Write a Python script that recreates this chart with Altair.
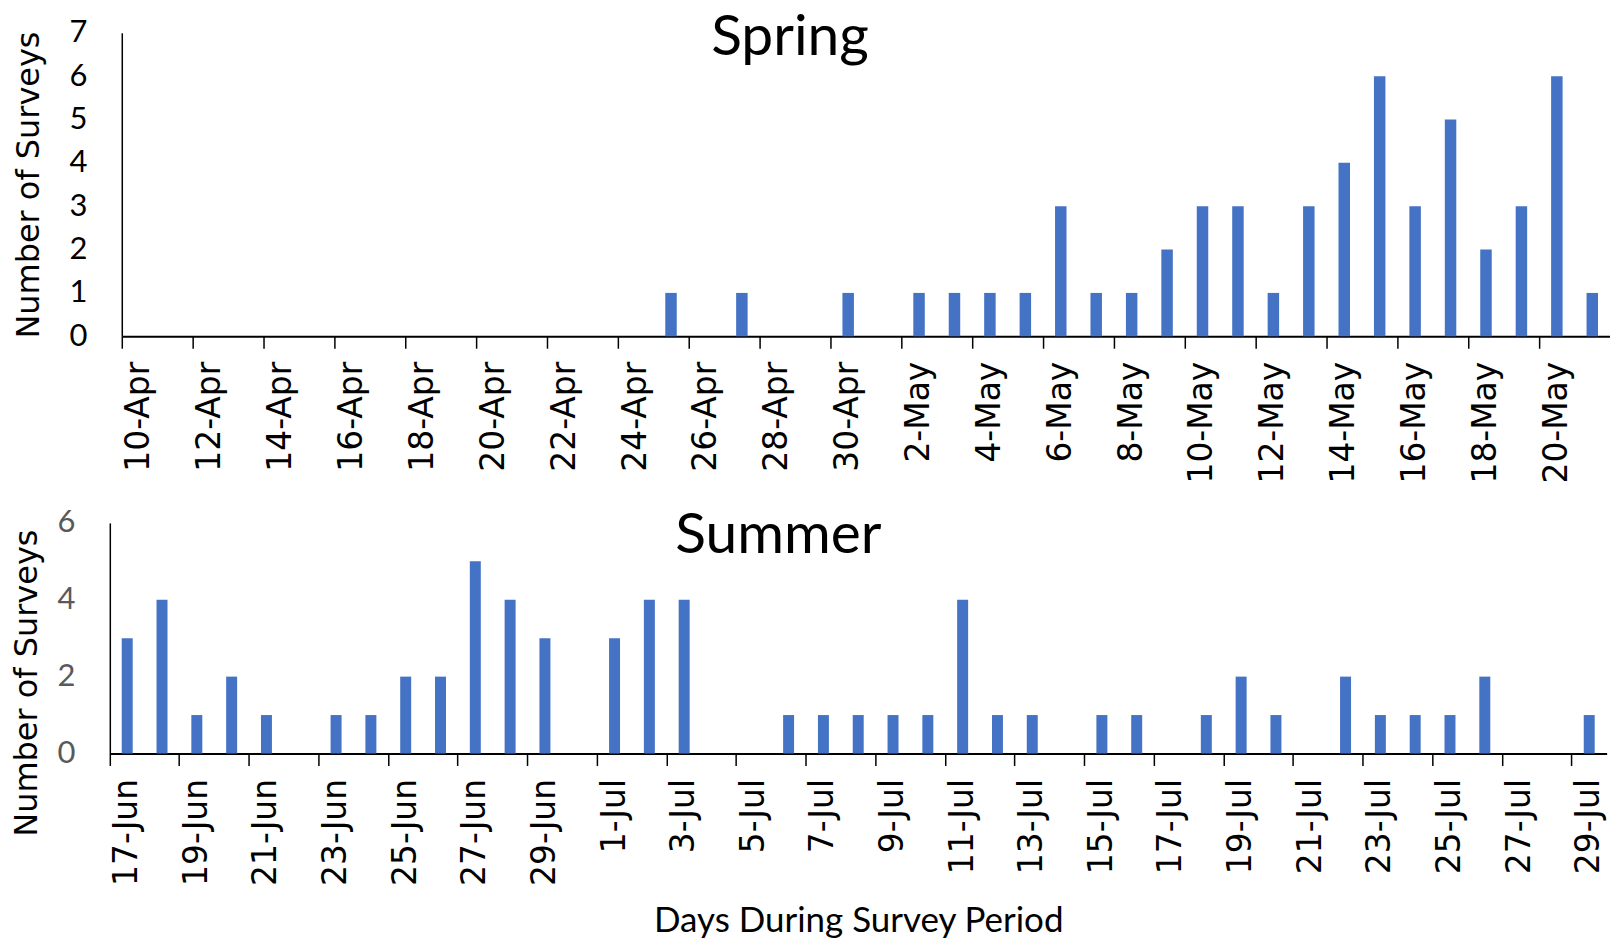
import altair as alt
import pandas as pd

spring_days = [
    "10-Apr", "11-Apr", "12-Apr", "13-Apr", "14-Apr", "15-Apr", "16-Apr", "17-Apr",
    "18-Apr", "19-Apr", "20-Apr", "21-Apr", "22-Apr", "23-Apr", "24-Apr", "25-Apr",
    "26-Apr", "27-Apr", "28-Apr", "29-Apr", "30-Apr", "1-May", "2-May", "3-May",
    "4-May", "5-May", "6-May", "7-May", "8-May", "9-May", "10-May", "11-May",
    "12-May", "13-May", "14-May", "15-May", "16-May", "17-May", "18-May", "19-May",
    "20-May", "21-May",
]
spring_counts = [
    0, 0, 0, 0, 0, 0, 0, 0,
    0, 0, 0, 0, 0, 0, 0, 1,
    0, 1, 0, 0, 1, 0, 1, 1,
    1, 1, 3, 1, 1, 2, 3, 3,
    1, 3, 4, 6, 3, 5, 2, 3,
    6, 1,
]
summer_days = [
    "17-Jun", "18-Jun", "19-Jun", "20-Jun", "21-Jun", "22-Jun", "23-Jun", "24-Jun",
    "25-Jun", "26-Jun", "27-Jun", "28-Jun", "29-Jun", "30-Jun", "1-Jul", "2-Jul",
    "3-Jul", "4-Jul", "5-Jul", "6-Jul", "7-Jul", "8-Jul", "9-Jul", "10-Jul",
    "11-Jul", "12-Jul", "13-Jul", "14-Jul", "15-Jul", "16-Jul", "17-Jul", "18-Jul",
    "19-Jul", "20-Jul", "21-Jul", "22-Jul", "23-Jul", "24-Jul", "25-Jul", "26-Jul",
    "27-Jul", "28-Jul", "29-Jul",
]
summer_counts = [
    3, 4, 1, 2, 1, 0, 1, 1,
    2, 2, 5, 4, 3, 0, 3, 4,
    4, 0, 0, 1, 1, 1, 1, 1,
    4, 1, 1, 0, 1, 1, 0, 1,
    2, 1, 0, 2, 1, 1, 1, 2,
    0, 0, 1,
]
spring_label_days = spring_days[::2]
summer_label_days = summer_days[::2]
spring_y_ticks = [0, 1, 2, 3, 4, 5, 6, 7]
summer_y_ticks = [0, 2, 4, 6]

BAR = "#4472C4"


def panel(days, counts, label_days, y_ticks, title, title_dx, title_dy, width,
          height, x_range, y_offset, ylab_color, y_title_pad, bar_w,
          x_title=None, y_title_y=None):
    df = pd.DataFrame({"day": days, "count": counts})
    xkw = dict(
        values=label_days, bandPosition=0, labelAngle=270, labelAlign="right",
        labelBaseline="middle", labelFont="DejaVu Sans", labelFontSize=33,
        labelColor="black", labelPadding=13, labelOverlap=False, tickSize=12,
        tickWidth=1.5, tickColor="black", domainColor="black", domainWidth=2,
        grid=False,
    )
    if x_title:
        xkw.update(title=x_title, titleFont="Lato", titleFontSize=35,
                   titleFontWeight="normal", titleColor="black", titlePadding=18)
    else:
        xkw.update(title=None)
    ykw = dict(
        values=y_ticks, ticks=False, grid=False, labelFont="Lato", labelFontSize=31,
        labelColor=ylab_color, labelPadding=35, labelOverlap=False,
        domainColor="black", domainWidth=1.5, title="Number of Surveys",
        titleFont="DejaVu Sans", titleFontSize=32, titleFontWeight="normal",
        titleColor="black", titlePadding=y_title_pad, offset=y_offset,
    )
    if y_title_y is not None:
        ykw.update(titleY=y_title_y)
    return alt.Chart(df).mark_bar(color=BAR, width=bar_w).encode(
        x=alt.X("day:N", sort=days,
                scale=alt.Scale(paddingInner=0, paddingOuter=0, range=x_range),
                axis=alt.Axis(**xkw)),
        y=alt.Y("count:Q", scale=alt.Scale(domain=[0, max(y_ticks)], nice=False),
                axis=alt.Axis(**ykw)),
    ).properties(
        width=width, height=height,
        title=alt.TitleParams(text=title, font="Lato", fontSize=57,
                              fontWeight="normal", color="black", anchor="middle",
                              frame="group", offset=-21, dx=title_dx, dy=title_dy,
                              baseline="alphabetic"),
    )


# band steps chosen to be exact binary fractions (35.5 and 34.875 px per day)
spring = panel(spring_days, spring_counts, spring_label_days, spring_y_ticks,
               "Spring", -70, 74, 1503, 304, [12, 1503], -12, "black", 23, 11.5)
summer = panel(summer_days, summer_counts, summer_label_days, summer_y_ticks,
               "Summer", -80, 82, 1499.625, 231, [0, 1499.625], 0, "#595959", 13,
               11, x_title="Days During Survey Period", y_title_y=160)

chart = alt.vconcat(spring, summer, spacing=23).properties(
    padding={"left": 3, "top": 0, "right": 0, "bottom": 0}
).configure_view(strokeWidth=0)

chart.save("out.html", embed_options={"renderer": "svg", "actions": False})
